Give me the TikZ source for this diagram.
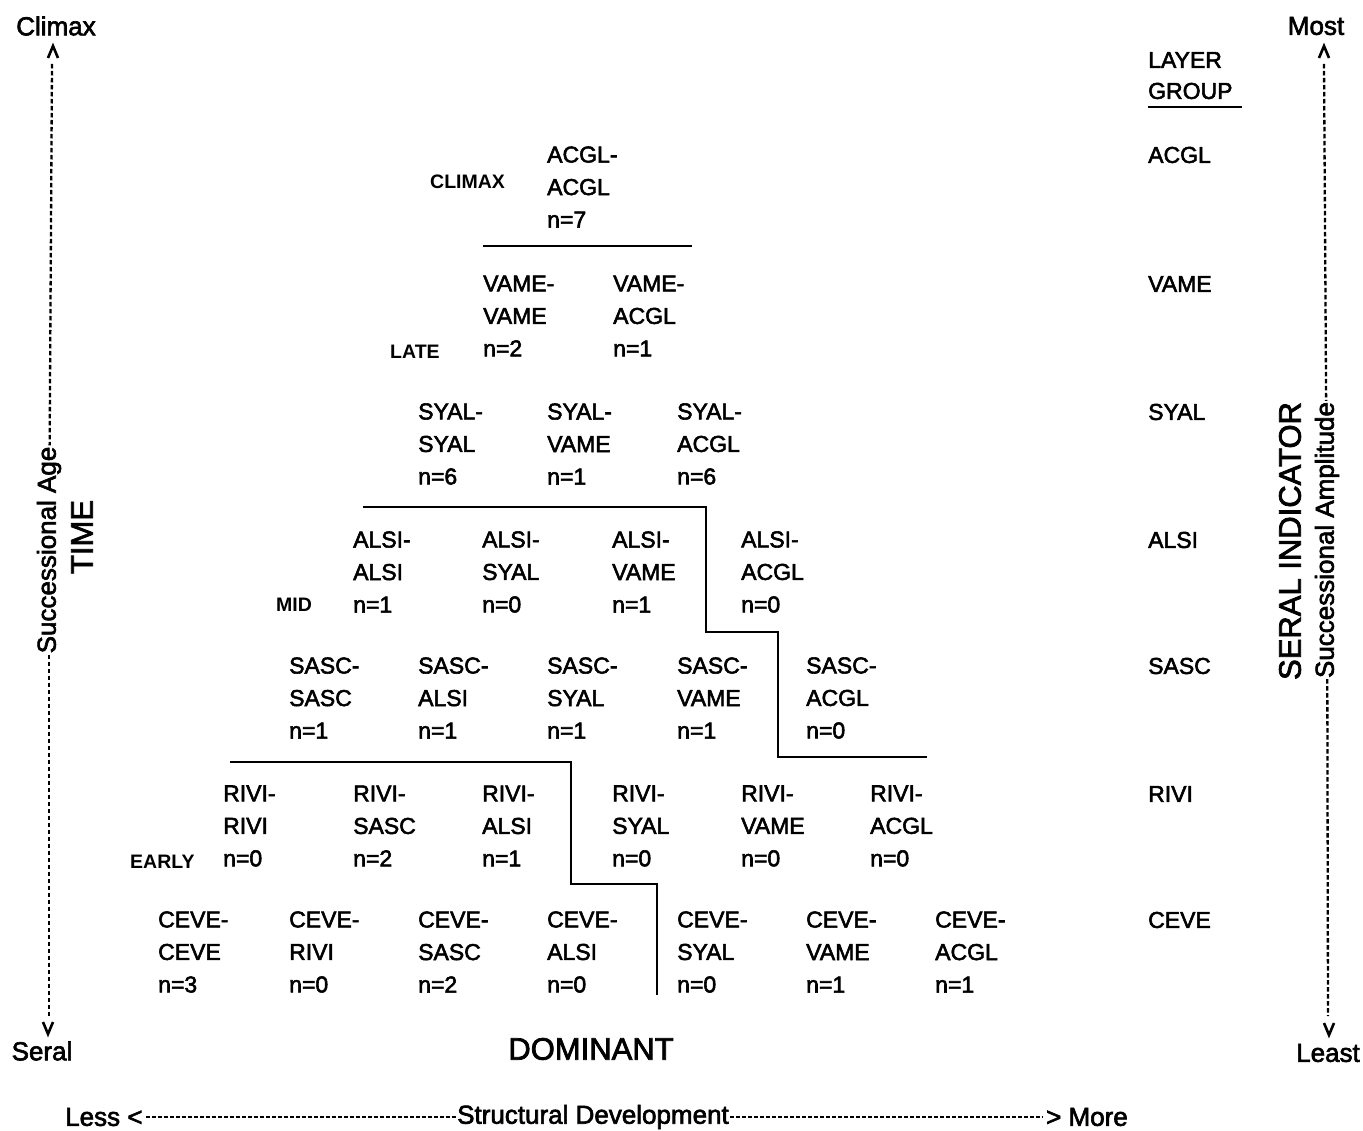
\documentclass[tikz,border=0pt]{standalone}
\usepackage{fontspec}
\setmainfont{Liberation Sans}
\newfontfamily\heavysans[FakeBold=2.4]{Liberation Sans}
\begin{document}
\begin{tikzpicture}[x=1pt,y=-1pt,
  cell/.style={anchor=west, align=left, inner sep=0pt, font=\heavysans\fontsize{23}{32.5}\selectfont},
  grp/.style={anchor=west, inner sep=0pt, font=\heavysans\fontsize{23}{32.5}\selectfont},
  stage/.style={anchor=west, inner sep=0pt, font=\bfseries\fontsize{19.5}{22}\selectfont},
  axislbl/.style={inner sep=1pt, font=\heavysans\fontsize{26}{30}\selectfont},
  biglbl/.style={inner sep=0pt, font=\heavysans\fontsize{31}{34}\selectfont},
  divider/.style={line width=2.4pt},
  axisline/.style={line width=2.3pt, dash pattern=on 4.5pt off 2.5pt},
  devline/.style={line width=2pt, dash pattern=on 4pt off 2pt},
  chev/.style={line width=2.6pt, line join=miter},
]
\useasboundingbox (0,0) rectangle (1363,1131);

% ---- matrix of layer-group pairs ----
\foreach \nm/\px/\py/\la/\lb/\nv in {
  ceA/158/952/CEVE/CEVE/3, ceB/289/952/CEVE/RIVI/0, ceC/418/952/CEVE/SASC/2,
  ceD/547/952/CEVE/ALSI/0, ceE/677/952/CEVE/SYAL/0, ceF/806/952/CEVE/VAME/1,
  ceG/935/952/CEVE/ACGL/1,
  riA/223/826/RIVI/RIVI/0, riB/353/826/RIVI/SASC/2, riC/482/826/RIVI/ALSI/1,
  riD/612/826/RIVI/SYAL/0, riE/741/826/RIVI/VAME/0, riF/870/826/RIVI/ACGL/0,
  saA/289/698/SASC/SASC/1, saB/418/698/SASC/ALSI/1, saC/547/698/SASC/SYAL/1,
  saD/677/698/SASC/VAME/1, saE/806/698/SASC/ACGL/0,
  alA/353/572/ALSI/ALSI/1, alB/482/572/ALSI/SYAL/0, alC/612/572/ALSI/VAME/1,
  alD/741/572/ALSI/ACGL/0,
  syA/418/444/SYAL/SYAL/6, syB/547/444/SYAL/VAME/1, syC/677/444/SYAL/ACGL/6,
  vaA/483/316/VAME/VAME/2, vaB/613/316/VAME/ACGL/1,
  acA/547/187/ACGL/ACGL/7}
  \node[cell] (\nm) at (\px,\py) {\la-\\\lb\\n=\nv};

% ---- successional stage labels ----
\node[stage] (climax) at (430,182) {CLIMAX};
\node[stage] (late)   at (390,352) {LATE};
\node[stage] (mid)    at (276,605) {MID};
\node[stage] (early)  at (130,862) {EARLY};

% ---- stage boundaries ----
\draw[divider] (483,246) -- (692,246);
\draw[divider] (363,507) -- (706,507) -- (706,632) -- (778,632) -- (778,757) -- (927,757);
\draw[divider] (230,762) -- (571,762) -- (571,884) -- (657,884) -- (657,995);

% ---- layer group column ----
\node[grp] (lgA) at (1148,60) {LAYER};
\node[grp] (lgB) at (1148,91) {GROUP};
\draw[line width=2.2pt] (1148,107) -- (1242,107);
\node[grp] (gAC) at (1148,155) {ACGL};
\node[grp] (gVA) at (1148,284) {VAME};
\node[grp] (gSY) at (1148,412) {SYAL};
\node[grp] (gAL) at (1148,540) {ALSI};
\node[grp] (gSA) at (1148,666) {SASC};
\node[grp] (gRI) at (1148,794) {RIVI};
\node[grp] (gCE) at (1148,920) {CEVE};

% ---- left axis: time ----
\node[axislbl] (climaxlbl) at (56,26) {Climax};
\node[axislbl] (serallbl)  at (42,1051) {Seral};
\draw[chev] (48,58) -- (53,46) -- (58,58);
\draw[chev] (43,1022) -- (48,1034) -- (53,1022);
\coordinate (ltop) at (52,64);
\coordinate (lbot) at (49,1016);
\node[axislbl, rotate=90] (agelbl) at (49,550) {Successional Age};
\node[biglbl, rotate=90] (timelbl) at (82,537) {TIME};
\draw[axisline] (ltop) -- (agelbl);
\draw[axisline] (agelbl) -- (lbot);

% ---- right axis: seral indicator ----
\node[axislbl] (mostlbl)  at (1316,26) {Most};
\node[axislbl] (leastlbl) at (1328,1053) {Least};
\draw[chev] (1319,58) -- (1324,46) -- (1329,58);
\draw[chev] (1324,1023) -- (1329,1035) -- (1334,1023);
\coordinate (rtop) at (1324,64);
\coordinate (rbot) at (1328,1016);
\node[axislbl, rotate=90] (amplbl) at (1327,540) {Successional Amplitude};
\node[biglbl, rotate=90] (serind) at (1290,541) {SERAL INDICATOR};
\draw[axisline] (rtop) -- (amplbl);
\draw[axisline] (amplbl) -- (rbot);

% ---- bottom: dominant and structural development ----
\node[biglbl] (dominant) at (591,1049) {DOMINANT};
\node[axislbl, anchor=west, inner sep=0pt] (lesslbl) at (65,1117) {Less <};
\node[axislbl] (structlbl) at (593,1117) {Structural Development};
\node[axislbl, anchor=east, inner sep=0pt] (morelbl) at (1128,1117) {> More};
\draw[devline] ([xshift=3pt]lesslbl.east |- structlbl.west) -- (structlbl.west);
\draw[devline] (structlbl.east) -- ([xshift=-3pt]morelbl.west |- structlbl.east);
\end{tikzpicture}
\end{document}
